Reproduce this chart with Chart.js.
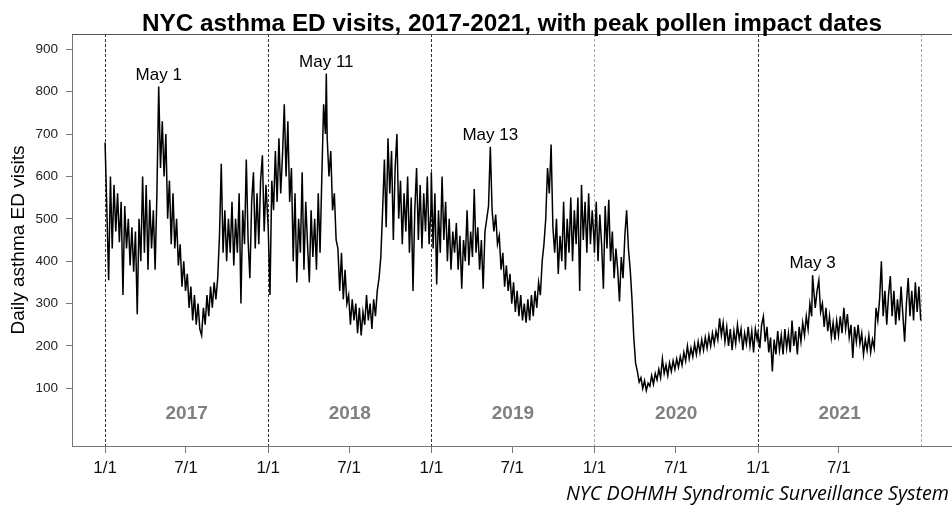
<!DOCTYPE html>
<html>
<head>
<meta charset="utf-8">
<title>NYC asthma ED visits</title>
<script src="https://cdn.jsdelivr.net/npm/chart.js@4.4.1/dist/chart.umd.min.js"></script>
<style>
  html, body { margin: 0; padding: 0; background: #fff; overflow: hidden; }
  #wrap { width: 952px; height: 512px; }
</style>
</head>
<body>
<div id="wrap"><canvas id="chart" width="952" height="512"></canvas></div>
<script>
// Readings taken every 4 days from 1/1 of each year (daily asthma ED visits)
var sampleStep = 4;
var years = ['2017', '2018', '2019', '2020', '2021'];
// day offsets of 1/1 for 2017..2022, counted from 1/1/2017
var yearStartDays = [0, 365, 730, 1095, 1461, 1826];

var visits2017 = [
    680, 520, 355, 600, 430, 580, 470, 560, 445, 540,
    320, 530, 430, 500, 390, 480, 375, 470, 275, 500,
    400, 600, 420, 580, 380, 545, 430, 520, 380, 560,
    812, 620, 730, 600, 700, 500, 590, 440, 560, 430,
    500, 390, 440, 340, 400, 330, 370, 290, 340, 260,
    320, 250, 300, 240, 225, 290, 250, 320, 270, 340,
    290, 350, 310, 360, 460, 630, 420, 520, 400, 500,
    420, 540, 390, 500, 420, 560, 300, 520, 440, 640,
    450, 360, 540, 610, 430, 560, 440, 590, 650, 470,
    580, 500
];
var visits2018 = [
    480, 320, 590, 520, 660, 540, 690, 560, 650, 770,
    600, 730, 540, 620, 400, 560, 350, 500, 420, 610,
    380, 540, 440, 350, 520, 410, 500, 380, 560, 420,
    600, 770, 700, 690, 600, 660, 520, 560, 450, 430,
    330, 420, 310, 380, 300, 320, 250, 310, 260, 300,
    230, 290, 225, 280, 250, 320, 260, 300, 240, 310,
    270, 330, 360, 410, 520, 640, 480, 690, 560, 660,
    450, 620, 700, 500, 590, 440, 560, 470, 600, 420,
    550, 330, 520, 620, 450, 580, 430, 560, 470, 600,
    440, 520
];
var visits2019 = [
    610, 430, 560, 345, 520, 420, 600, 450, 540, 400,
    500, 380, 470, 420, 490, 380, 460, 335, 450, 400,
    520, 390, 470, 410, 570, 420, 480, 380, 450, 335,
    470, 500, 530, 670, 520, 470, 510, 440, 460, 380,
    420, 340, 390, 330, 370, 300, 350, 280, 330, 270,
    320, 260, 300, 255, 310, 260, 320, 270, 330, 290,
    350, 320, 400, 440, 500, 620, 560, 675, 480, 420,
    500, 370, 460, 400, 540, 380, 500, 420, 550, 400,
    520, 440, 550, 330, 580, 450, 540, 420, 560, 440,
    520, 450
];
var visits2020 = [
    420, 540, 400, 510, 440, 335, 530, 430, 545, 400,
    470, 360, 430, 380, 305, 410, 360, 460, 520, 430,
    380, 310, 220, 160, 140, 115, 125, 100, 118, 95,
    112, 105, 130, 110, 135, 120, 145, 125, 170, 135,
    155, 130, 160, 140, 165, 145, 170, 150, 175, 155,
    185, 165, 200, 170, 195, 175, 205, 180, 210, 185,
    215, 190, 220, 195, 225, 200, 230, 205, 235, 215,
    265, 225, 255, 210, 245, 200, 240, 190, 235, 205,
    250, 215, 240, 190, 230, 205, 245, 200, 235, 185,
    240, 215
];
var visits2021 = [
    230, 195, 250, 270, 210, 245, 185, 220, 140, 215,
    180, 235, 190, 225, 180, 240, 195, 230, 185, 260,
    200, 235, 180, 245, 210, 255, 225, 270, 240, 300,
    270, 340, 290, 330, 355, 280, 300, 245, 290, 235,
    270, 220, 255, 215, 260, 225, 270, 230, 290, 240,
    275, 220, 250, 172, 245, 210, 250, 205, 230, 180,
    215, 190, 225, 185, 215, 195, 290, 260, 310, 400,
    270, 330, 250, 320, 365, 270, 330, 250, 310, 260,
    340, 275, 210, 300, 360, 270, 330, 260, 350, 280,
    340, 260
];

// peak pollen impact dates
var peakDays = [120, 495, 862, 1583];
var peakValues = [812, 843, 670, 367];
var peakLabels = ['May 1', 'May 11', 'May 13', 'May 3'];

var xTickDays = [0, 181, 365, 546, 730, 911, 1095, 1277, 1461, 1642];
var xTickLabels = ['1/1', '7/1', '1/1', '7/1', '1/1', '7/1', '1/1', '7/1', '1/1', '7/1'];
var yTicks = [100, 200, 300, 400, 500, 600, 700, 800, 900];

(function() {
    'use strict';

    var FONT = '"Liberation Sans", Arial, Helvetica, sans-serif';

    // Build the {x, y} series from the yearly readings
    function buildSeries() {
        var all = [visits2017, visits2018, visits2019, visits2020, visits2021];
        var points = [];
        all.forEach(function(vals, i) {
            vals.forEach(function(v, k) {
                points.push({ x: yearStartDays[i] + k * sampleStep, y: v });
            });
        });
        peakDays.forEach(function(d, i) {
            var hit = points.find(function(p) { return p.x === d; });
            if (hit) {
                hit.y = peakValues[i];
            } else {
                points.push({ x: d, y: peakValues[i] });
            }
        });
        points.sort(function(a, b) { return a.x - b.x; });
        return points;
    }

    var decor = {
        id: 'decor',
        beforeDatasetsDraw: function(chart) {
            var ctx = chart.ctx, a = chart.chartArea, x = chart.scales.x;
            ctx.save();
            ctx.lineWidth = 1;
            ctx.setLineDash([3, 2]);
            yearStartDays.forEach(function(d, i) {
                var px = Math.round(x.getPixelForValue(d)) + 0.5;
                ctx.strokeStyle = (i === 3 || i === 5) ? '#a8a8a8' : '#333';
                ctx.beginPath();
                ctx.moveTo(px, a.top);
                ctx.lineTo(px, a.bottom);
                ctx.stroke();
            });
            ctx.restore();
        },
        afterDraw: function(chart) {
            var ctx = chart.ctx, a = chart.chartArea;
            var x = chart.scales.x, y = chart.scales.y;
            ctx.save();

            // top frame line
            ctx.strokeStyle = '#555';
            ctx.lineWidth = 1;
            ctx.beginPath();
            ctx.moveTo(a.left, a.top + 0.5);
            ctx.lineTo(a.right, a.top + 0.5);
            ctx.stroke();

            // title
            ctx.fillStyle = '#000';
            ctx.font = 'bold 24.3px ' + FONT;
            ctx.textAlign = 'center';
            ctx.textBaseline = 'alphabetic';
            ctx.fillText('NYC asthma ED visits, 2017-2021, with peak pollen impact dates', (a.left + a.right) / 2, 31);

            // peak labels
            ctx.font = '17px ' + FONT;
            ctx.textBaseline = 'bottom';
            peakDays.forEach(function(d, i) {
                ctx.fillText(peakLabels[i], x.getPixelForValue(d), y.getPixelForValue(peakValues[i]) - 3);
            });

            // year labels
            ctx.fillStyle = '#808080';
            ctx.font = 'bold 19px ' + FONT;
            ctx.textBaseline = 'middle';
            years.forEach(function(yr, i) {
                var mid = (yearStartDays[i] + yearStartDays[i + 1]) / 2;
                ctx.fillText(yr, x.getPixelForValue(mid), a.bottom - 32);
            });

            // y axis title
            ctx.fillStyle = '#000';
            ctx.font = '19px ' + FONT;
            ctx.translate(19, (a.top + a.bottom) / 2);
            ctx.rotate(-Math.PI / 2);
            ctx.fillText('Daily asthma ED visits', 0, 0);
            ctx.setTransform(1, 0, 0, 1, 0, 0);

            // source
            ctx.font = 'italic 19.7px "Open Sans", sans-serif';
            ctx.textAlign = 'right';
            ctx.textBaseline = 'alphabetic';
            ctx.fillText('NYC DOHMH Syndromic Surveillance System', 949, 500);

            ctx.restore();
        }
    };

    var ctx = document.getElementById('chart').getContext('2d');
    new Chart(ctx, {
        type: 'line',
        data: {
            datasets: [{
                data: buildSeries(),
                borderColor: '#000',
                borderWidth: 1.5,
                pointRadius: 0,
                tension: 0,
                fill: false
            }]
        },
        options: {
            responsive: false,
            animation: false,
            parsing: false,
            layout: {
                padding: { top: 34, right: 0, bottom: 36, left: 0 }
            },
            plugins: {
                legend: { display: false },
                tooltip: { enabled: false }
            },
            scales: {
                x: {
                    type: 'linear',
                    min: -74,
                    max: 1895,
                    afterBuildTicks: function(s) {
                        s.ticks = xTickDays.map(function(v) { return { value: v }; });
                    },
                    afterFit: function(s) { s.height = 30; },
                    ticks: {
                        autoSkip: false,
                        maxRotation: 0,
                        padding: 5,
                        color: '#111',
                        font: { family: FONT, size: 17 },
                        callback: function(v) {
                            return xTickLabels[xTickDays.indexOf(v)];
                        }
                    },
                    grid: { drawOnChartArea: false, tickLength: 7, color: '#777' },
                    border: { display: true, color: '#777' }
                },
                y: {
                    min: -36,
                    max: 936,
                    afterBuildTicks: function(s) {
                        s.ticks = yTicks.map(function(v) { return { value: v }; });
                    },
                    afterFit: function(s) { s.width = 72; },
                    ticks: {
                        padding: 8,
                        color: '#222',
                        font: { family: FONT, size: 13.5 }
                    },
                    grid: { drawOnChartArea: false, tickLength: 6, color: '#777' },
                    border: { display: true, color: '#777' }
                }
            }
        },
        plugins: [decor]
    });
})();
</script>
</body>
</html>
